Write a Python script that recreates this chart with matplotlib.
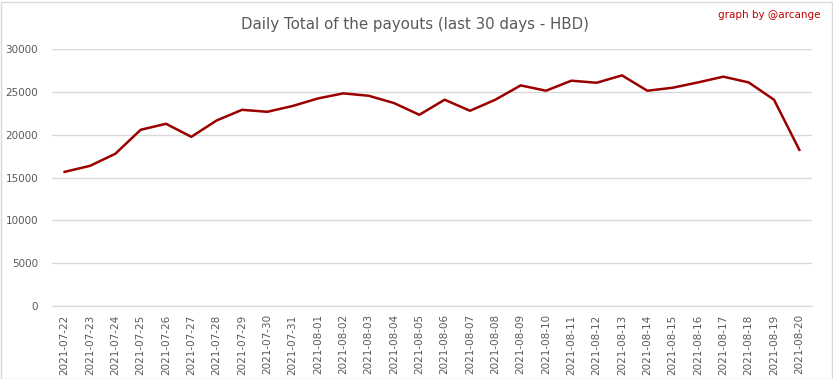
import matplotlib.pyplot as plt
from matplotlib.patches import Rectangle
from matplotlib import font_manager

dates = ['2021-07-22', '2021-07-23', '2021-07-24', '2021-07-25', '2021-07-26',
         '2021-07-27', '2021-07-28', '2021-07-29', '2021-07-30', '2021-07-31',
         '2021-08-01', '2021-08-02', '2021-08-03', '2021-08-04', '2021-08-05',
         '2021-08-06', '2021-08-07', '2021-08-08', '2021-08-09', '2021-08-10',
         '2021-08-11', '2021-08-12', '2021-08-13', '2021-08-14', '2021-08-15',
         '2021-08-16', '2021-08-17', '2021-08-18', '2021-08-19', '2021-08-20']
payouts = [15660, 16360, 17770, 20570, 21270, 19750, 21660, 22900, 22670, 23350,
           24230, 24820, 24540, 23690, 22320, 24080, 22790, 24080, 25750, 25130,
           26300, 26060, 26920, 25130, 25480, 26100, 26770, 26100, 24080, 18230]
yticks = [0, 5000, 10000, 15000, 20000, 25000, 30000]

# narrow font if there is one, like the Calibri look of the original
names = set(f.name for f in font_manager.fontManager.ttflist)
narrow = 'Liberation Sans Narrow' if 'Liberation Sans Narrow' in names else 'DejaVu Sans'
title_size = 13.5 if narrow != 'DejaVu Sans' else 10.8

fig = plt.figure(figsize=(8.33, 3.79), dpi=100)
ax = fig.add_axes([52 / 833, 1 - 306 / 379, 760 / 833, 257 / 379])

x = range(len(dates))
ax.plot(x, payouts, color='#9b0000', linewidth=1.8)

ax.set_xlim(-0.5, len(dates) - 0.5)
ax.set_ylim(0, 30000)
ax.set_yticks(yticks)
ax.set_yticklabels([str(v) for v in yticks])
ax.set_xticks(list(x))
ax.set_xticklabels(dates, rotation=90)
ax.grid(axis='y', color='#d9d9d9', linewidth=1)
ax.set_axisbelow(True)
for s in ['left', 'right', 'top']:
    ax.spines[s].set_visible(False)
ax.spines['bottom'].set_color('#d9d9d9')
ax.tick_params(axis='both', length=0, colors='#595959', labelsize=7.5)
ax.tick_params(axis='y', pad=10)
ax.tick_params(axis='x', pad=6)

fig.text(0.498, 1 - 24 / 379, 'Daily Total of the payouts (last 30 days - HBD)',
         ha='center', va='center', fontsize=title_size, color='#595959',
         family=[narrow, 'DejaVu Sans'])
fig.text(820 / 833, 1 - 15 / 379, 'graph by @arcange', ha='right', va='center',
         fontsize=8.5 if narrow != 'DejaVu Sans' else 7.5, color='#c00000',
         family=[narrow, 'DejaVu Sans'])

fig.patches.append(Rectangle((0.5 / 833, 0.5 / 379), 831 / 833, 377 / 379,
                             transform=fig.transFigure, fill=False,
                             edgecolor='#d9d9d9', linewidth=1))

fig.savefig('out.png', dpi=100)
